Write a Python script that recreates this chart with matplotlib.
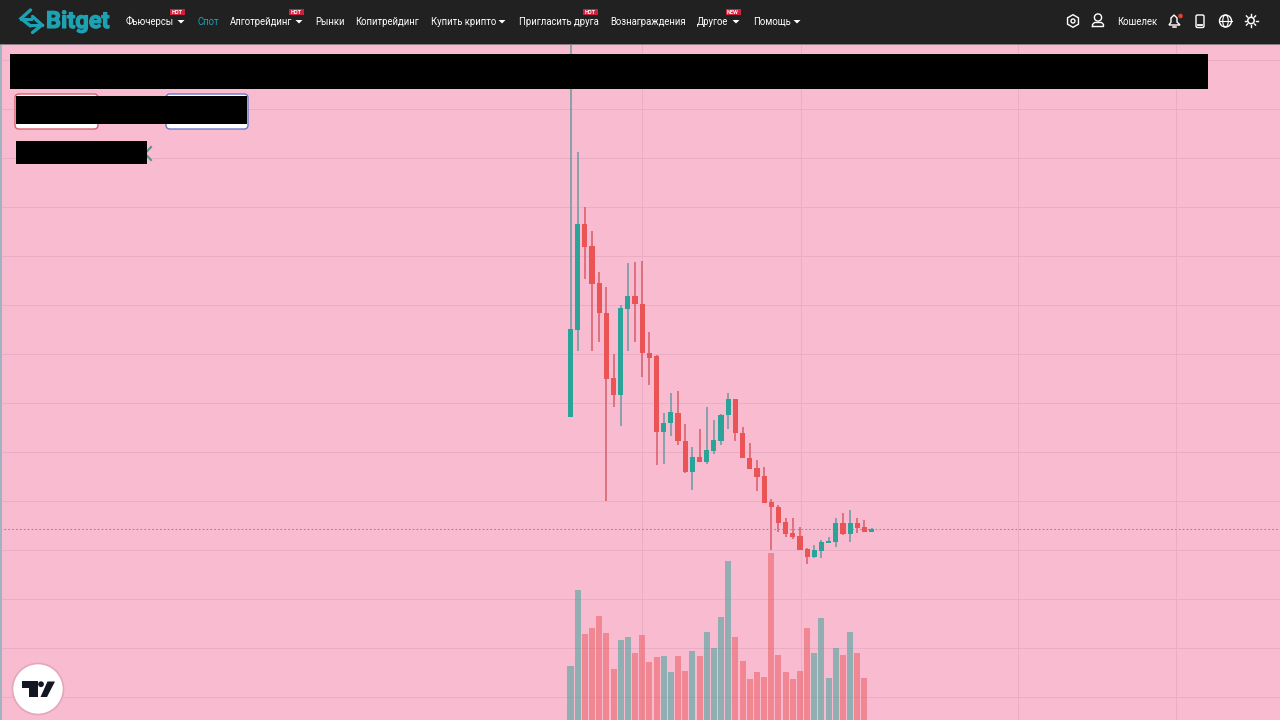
import matplotlib
matplotlib.use("Agg")
import matplotlib.pyplot as plt
import matplotlib.patheffects as pe
from matplotlib.patches import Rectangle, FancyBboxPatch, Circle, Polygon, RegularPolygon, Ellipse

# ---- data (price / volume, arbitrary units) ----
highs = [676,568,513,489,448,433,366,415,457,458,459,388,365,307,327,329,296,273,291,313,300,306,327,321,293,277,260,253,221,215,202,202,193,172,175,180,183,202,207,210,202,200,192]
opens = [303,390,496,474,437,407,342,325,411,424,416,367,364,288,297,307,279,248,263,258,269,279,305,321,287,262,252,244,218,213,198,187,184,171,163,169,177,178,197,186,197,193,188]
closes = [391,496,473,436,407,341,325,412,424,416,367,362,288,297,308,279,248,263,258,270,280,305,321,287,262,251,243,217,213,197,186,183,170,163,170,178,179,197,186,197,192,188,191]
lows = [303,369,441,369,378,219,313,294,369,378,343,335,255,256,284,275,247,230,258,256,266,275,291,279,262,251,229,217,170,188,183,181,170,156,162,162,177,173,185,178,187,188,188]
volumes = [54,130,86,92,104,87,51,80,83,67,85,58,63,64,48,64,49,69,64,88,72,103,159,83,59,41,48,43,167,65,48,41,49,92,67,102,42,72,65,88,67,42]
last_price = 191
price_grid = [23,72,121,170,219,268,317,366,415,464,513,562,611,660]
time_grid = [10,32.1,62.35,84.5]

nav_items = ["Фьючерсы","Спот","Алготрейдинг","Рынки","Копитрейдинг","Купить крипто","Пригласить друга","Вознаграждения","Другое","Помощь"]
nav_x = [126,197,230,315,355,431,519,610,697,753]
caret_x = [181,299,502,736,797]
badges = [("HOT",177.5),("HOT",296.5),("HOT",590),("NEW",733)]

PINK = "#F9BBD0"; DARK = "#212121"; TEAL = "#1DA2B4"
UP = "#2AA398"; DOWN = "#EA5455"

plt.rcParams["font.family"] = ["Roboto","DejaVu Sans"]
fig = plt.figure(figsize=(12.8,7.2), dpi=100, facecolor=PINK)

# ---- chart ----
ax = fig.add_axes([0,0,1,1], facecolor=PINK)
step = 7.17; x0 = 570.5
ax.set_xlim(-x0/step, (1280-x0)/step)
ax.set_ylim(0,720)
ax.set_xticks(time_grid); ax.set_yticks(price_grid)
ax.grid(True, color="#EBADC3", lw=0.7)
ax.tick_params(length=0, labelbottom=False, labelleft=False)
for s in ax.spines.values():
    s.set_visible(False)
ax.set_axisbelow(True)

vx = list(range(len(volumes)))
vcol = [UP if closes[i] >= opens[i] else DOWN for i in vx]
ax.bar(vx, volumes, width=0.84, color=vcol, alpha=0.5, lw=0, zorder=2)

cx = list(range(len(opens)))
ccol = [UP if c >= o else DOWN for o,c in zip(opens,closes)]
wcol = ["#6E9BA3" if c >= o else "#D9606C" for o,c in zip(opens,closes)]
ax.vlines(cx, lows, highs, colors=wcol, lw=1.15, zorder=3)
ax.bar(cx, [abs(c-o) for o,c in zip(opens,closes)], bottom=[min(o,c) for o,c in zip(opens,closes)],
       width=0.72, color=ccol, lw=0, zorder=4)
ax.axhline(last_price, color="#6F9AA6", lw=0.8, ls=(0,(1.5,2)), zorder=3)

# ---- page chrome, in pixel coordinates ----
ui = fig.add_axes([0,0,1,1], facecolor="none")
ui.set_xlim(0,1280); ui.set_ylim(720,0); ui.axis("off")
ui.add_patch(Rectangle((0,0),1280,44,color=DARK,lw=0))
ui.add_patch(Rectangle((0,44),1280,1,color="#8A7C84",lw=0))
ui.add_patch(Rectangle((0,45),1.5,675,color="#9FB4C0",lw=0))

# logo
ui.plot([30.5,21,30.5],[10,18.5,26],color=TEAL,lw=2.4,solid_capstyle="round",solid_joinstyle="miter")
ui.plot([32.5,42,32.5],[16.5,25,32.5],color=TEAL,lw=2.4,solid_capstyle="round",solid_joinstyle="miter")
ui.plot([21,31],[18.5,18.5],color=TEAL,lw=2.2)
ui.plot([32,42],[25,25],color=TEAL,lw=2.2)
ui.text(46,28,"Bitget",color=TEAL,fontsize=17,fontweight="bold",va="baseline",ha="left",
        path_effects=[pe.withStroke(linewidth=0.8,foreground=TEAL)])

for name,x in zip(nav_items,nav_x):
    ui.text(x,25,name,color=TEAL if name=="Спот" else "white",fontsize=6.85,va="baseline",ha="left")
for x in caret_x:
    ui.add_patch(Polygon([(x-3.5,20),(x+3.5,20),(x,23.5)],color="white",lw=0))
for label,x in badges:
    ui.add_patch(Rectangle((x-7.5,9),15,6,color="#D0203F",lw=0))
    ui.text(x,12.1,label,color="white",fontsize=4,fontweight="bold",va="center",ha="center")

# right-hand icons
ui.add_patch(RegularPolygon((1073,21),6,radius=6.3,fill=False,ec="white",lw=1.0))
ui.add_patch(Circle((1073,21),2,fill=False,ec="white",lw=1.0))
ui.add_patch(Circle((1098,17.5),3.6,fill=False,ec="white",lw=1.0))
ui.plot([1092.5,1092.5,1094.5,1101.5,1103.5,1103.5,1092.5],[26.5,24.5,22.5,22.5,24.5,26.5,26.5],color="white",lw=1.0)
ui.text(1117,25,"Кошелек",color="white",fontsize=6.85,va="baseline",ha="left")
ui.add_patch(Polygon([(1169,25),(1171,22),(1171,18),(1174,15),(1177,18),(1177,22),(1180,25)],fill=False,ec="white",lw=1.0))
ui.plot([1172.5,1175.5],[27,27],color="white",lw=1.1)
ui.add_patch(Circle((1180.5,16),2.3,color="#F03A2E",lw=0))
ui.add_patch(FancyBboxPatch((1196,15),8,12.5,boxstyle="round,pad=0,rounding_size=1.5",fill=False,ec="white",lw=1.0))
ui.plot([1198,1202],[24.7,24.7],color="white",lw=1.3)
ui.add_patch(Circle((1225.5,21),6,fill=False,ec="white",lw=1.0))
ui.add_patch(Ellipse((1225.5,21),5.5,12,fill=False,ec="white",lw=0.8))
ui.plot([1219.5,1231.5],[21,21],color="white",lw=0.8)
ui.add_patch(Circle((1251,20.5),3.2,fill=False,ec="white",lw=1.1))
for dx,dy in [(0,-6.5),(0,6.5),(-6.5,0),(6.5,0),(-4.6,-4.6),(4.6,4.6),(-4.6,4.6),(4.6,-4.6)]:
    ui.plot([1251+dx*0.75,1251+dx],[20.5+dy*0.75,20.5+dy],color="white",lw=1.0)

# redaction boxes, buttons
ui.add_patch(FancyBboxPatch((15,94),83,35,boxstyle="round,pad=0,rounding_size=4",fc="white",ec="#D8606C",lw=1))
ui.add_patch(FancyBboxPatch((166,94),82,35,boxstyle="round,pad=0,rounding_size=4",fc="white",ec="#6A78C8",lw=1))
ui.add_patch(Rectangle((10,54),1198,35,color="black",lw=0))
ui.add_patch(Rectangle((16,96),231,28,color="black",lw=0))
ui.plot([139,151],[147,160],color="#5E8F88",lw=1.5,zorder=0.5)
ui.plot([151,139],[147,160],color="#5E8F88",lw=1.5,zorder=0.5)
ui.add_patch(Rectangle((16,141),131,23,color="black",lw=0))

# TradingView badge
ui.add_patch(Circle((38,689),25.5,fc="white",ec="#E3A6BA",lw=1.2))
ui.add_patch(Polygon([(21.7,681),(38.3,681),(38.3,697),(29.3,697),(29.3,687.5),(21.7,687.5)],color="#131722",lw=0))
ui.add_patch(Circle((41,684.2),2.9,color="#131722",lw=0))
ui.add_patch(Polygon([(47.5,681.5),(55,681.5),(47,697),(40.5,697)],color="#131722",lw=0))

fig.savefig("out.png", dpi=100, facecolor=PINK)
